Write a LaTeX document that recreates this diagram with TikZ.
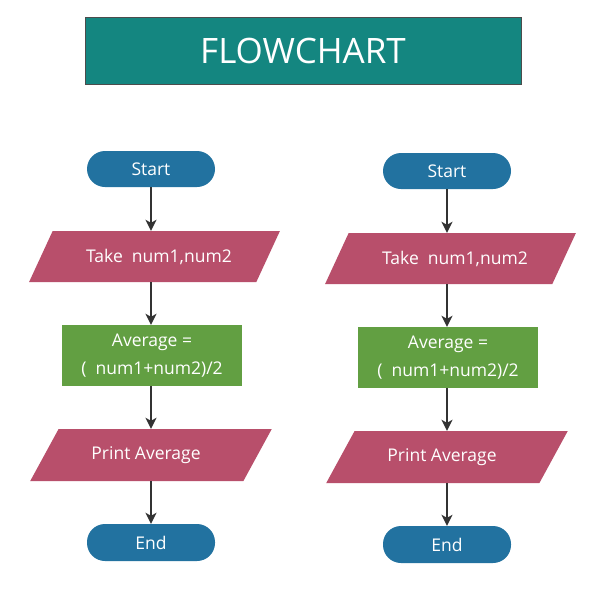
\documentclass[tikz,border=0pt]{standalone}
\usepackage{fontspec}
\setmainfont{Open Sans}
\usetikzlibrary{shapes.geometric,arrows.meta}
\definecolor{teal1}{HTML}{148680}
\definecolor{pillblue}{HTML}{2272A0}
\definecolor{pink1}{HTML}{B84F6B}
\definecolor{green1}{HTML}{629F42}
\definecolor{arrowgray}{HTML}{333333}
\begin{document}
\begin{tikzpicture}[x=1pt,y=-1pt,
  txt/.style={text=white, font=\fontsize{17.5}{28}\selectfont},
  pill/.style={txt, fill=pillblue, rounded corners=18pt, minimum width=128pt, minimum height=36pt, inner sep=0pt},
  io/.style={txt, fill=pink1, trapezium, trapezium stretches=true, minimum height=51pt, inner sep=0pt},
  proc/.style={txt, fill=green1, minimum width=180pt, minimum height=61pt, align=center, inner sep=0pt},
  flow/.style={draw=arrowgray, line width=1.5pt, -{Stealth[length=11pt,width=11pt,inset=3pt]}}
]
\useasboundingbox (0,0) rectangle (600,600);
\fill[white] (0,0) rectangle (600,600);
\node[draw=gray!60!black, line width=0.8pt, fill=teal1, minimum width=436pt, minimum height=67pt,
      text=white, font=\fontsize{35}{42}\selectfont] (title) at (303,50.5) {FLOWCHART};
\foreach \p/\dx/\dy in {l/0/0,r/296/2}{
  \begin{scope}[shift={(\dx,\dy)}]
    \node[pill] (\p start) at (151,169) {Start};
    \node[io, minimum width=251pt, trapezium left angle=41, trapezium right angle=139] (\p take) at (154.5,256.5) {\hspace*{9pt}Take\ \ num1,num2};
    \node[proc] (\p avg) at (152,355.5) {Average =\\(\ \ num1+num2)/2};
    \node[io, minimum width=242pt, minimum height=52pt, trapezium left angle=43, trapezium right angle=137] (\p print) at (151,455) {Print Average\hspace*{10pt}};
    \node[pill, minimum height=37pt] (\p end) at (151,542.5) {End};
    \draw[flow] (\p start.south) -- (\p start.south |- \p take.north);
    \draw[flow] (\p start.south |- \p take.south) -- (\p start.south |- \p avg.north);
    \draw[flow] (\p start.south |- \p avg.south) -- (\p start.south |- \p print.north);
    \draw[flow] (\p start.south |- \p print.south) -- (\p end.north);
  \end{scope}
}
\end{tikzpicture}
\end{document}
